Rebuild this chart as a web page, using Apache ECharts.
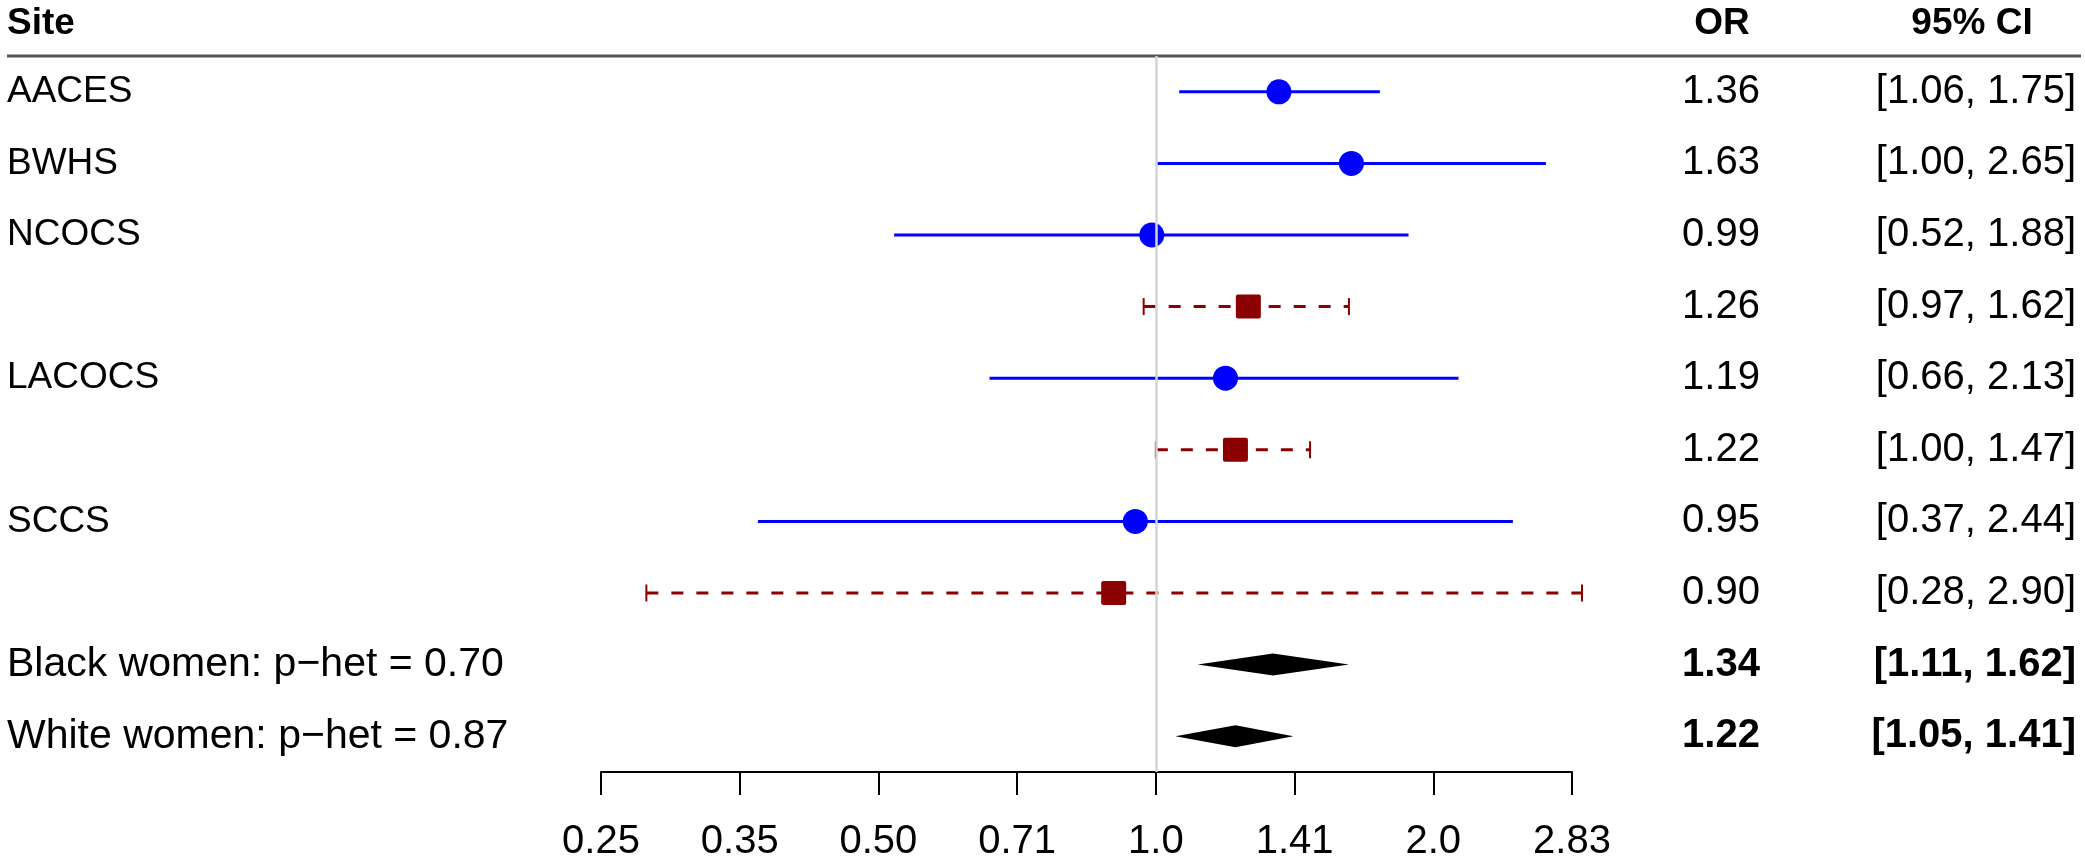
<!DOCTYPE html>
<html>
<head>
<meta charset="utf-8">
<script src="https://cdn.jsdelivr.net/npm/echarts@6/dist/echarts.min.js"></script>
<style>
html,body{margin:0;padding:0;background:#fff;}
#chart{width:2085px;height:862px;}
</style>
</head>
<body>
<div id="chart"></div>
<script>
// ---- data ----
const sites = ['AACES', 'BWHS', 'NCOCS', '', 'LACOCS', '', 'SCCS', '', 'Black women: p\u2212het = 0.70', 'White women: p\u2212het = 0.87'];
const kinds = ['black', 'black', 'black', 'white', 'black', 'white', 'black', 'white', 'summary', 'summary'];
const orValues = [1.36, 1.63, 0.99, 1.26, 1.19, 1.22, 0.95, 0.90, 1.34, 1.22];
const ciLower = [1.06, 1.00, 0.52, 0.97, 0.66, 1.00, 0.37, 0.28, 1.11, 1.05];
const ciUpper = [1.75, 2.65, 1.88, 1.62, 2.13, 1.47, 2.44, 2.90, 1.62, 1.41];
const tickLabels = ['0.25', '0.35', '0.50', '0.71', '1.0', '1.41', '2.0', '2.83'];
const headers = ['Site', 'OR', '95% CI'];

const FONT = '"Liberation Sans", Arial, Helvetica, sans-serif';
const FS_NAME = 37;
const FS_NUM = 40;
const FS_SUM = 41;
const FS_HEAD = 37;
const BLUE = '#0000FF';
const RED = '#8B0000';

const rowIdx = sites.map((_, i) => String(i));
const data = orValues.map((v, i) => [v, i, ciLower[i], ciUpper[i]]);
const orText = orValues.map(v => v.toFixed(2));
const ciText = ciLower.map((l, i) => '[' + l.toFixed(2) + ', ' + ciUpper[i].toFixed(2) + ']');

const chart = echarts.init(document.getElementById('chart'), null, {renderer: 'canvas'});

function richFmt(arr) {
  return function (value) {
    const i = Number(value);
    return kinds[i] === 'summary' ? '{b|' + arr[i] + '}' : '{n|' + arr[i] + '}';
  };
}
const richStyles = {
  n: {fontFamily: FONT, fontSize: FS_NUM, color: '#000'},
  b: {fontFamily: FONT, fontSize: FS_NUM, color: '#000', fontWeight: 'bold'},
  s: {fontFamily: FONT, fontSize: FS_SUM, color: '#000'},
  t: {fontFamily: FONT, fontSize: FS_NAME, color: '#000'}
};

const option = {
  animation: false,
  backgroundColor: '#fff',
  grid: {left: 601, right: 513, top: 56, bottom: 85, containLabel: false},
  xAxis: {
    type: 'log',
    logBase: 2,
    min: 0.25,
    max: Math.pow(2, 1.5),
    interval: 0.5,
    axisLine: {show: true, lineStyle: {color: '#000', width: 2}},
    axisTick: {show: true, length: 23, lineStyle: {color: '#000', width: 2}},
    splitLine: {show: false},
    minorTick: {show: false},
    axisLabel: {
      margin: 50,
      fontFamily: FONT, fontSize: FS_NUM, color: '#000',
      formatter: function (v) {
        const k = Math.round(Math.log2(v) * 2) + 4;
        return tickLabels[k] !== undefined ? tickLabels[k] : '';
      }
    }
  },
  yAxis: [
    {
      type: 'category', data: rowIdx, inverse: true, position: 'left',
      axisLine: {show: false}, axisTick: {show: false}, splitLine: {show: false},
      axisLabel: {
        margin: 594, align: 'left', rich: richStyles,
        formatter: function (v) {
          const i = Number(v);
          if (!sites[i]) return '';
          return kinds[i] === 'summary' ? '{s|' + sites[i] + '}' : '{t|' + sites[i] + '}';
        }
      }
    },
    {
      type: 'category', data: rowIdx, inverse: true, position: 'right',
      axisLine: {show: false}, axisTick: {show: false}, splitLine: {show: false},
      axisLabel: {margin: 149, align: 'center', formatter: richFmt(orText), rich: richStyles}
    },
    {
      type: 'category', data: rowIdx, inverse: true, position: 'right', offset: 0,
      axisLine: {show: false}, axisTick: {show: false}, splitLine: {show: false},
      axisLabel: {margin: 504, align: 'right', formatter: richFmt(ciText), rich: richStyles}
    }
  ],
  graphic: [
    {type: 'line', shape: {x1: 7, y1: 56, x2: 2081, y2: 56}, style: {stroke: '#555', lineWidth: 3}, z: 5},
    {type: 'text', x: 7, y: 24, style: {text: headers[0], font: 'bold ' + FS_HEAD + 'px ' + FONT, fill: '#000', textAlign: 'left', textVerticalAlign: 'middle'}},
    {type: 'text', x: 1722, y: 24, style: {text: headers[1], font: 'bold ' + FS_HEAD + 'px ' + FONT, fill: '#000', textAlign: 'center', textVerticalAlign: 'middle'}},
    {type: 'text', x: 1972, y: 24, style: {text: headers[2], font: 'bold ' + FS_HEAD + 'px ' + FONT, fill: '#000', textAlign: 'center', textVerticalAlign: 'middle'}}
  ],
  series: [
    {
      type: 'line', data: [], xAxisIndex: 0, yAxisIndex: 0, z: 1,
      markLine: {
        silent: true, symbol: 'none', label: {show: false},
        lineStyle: {color: '#d3d3d3', width: 2.5, type: 'solid'},
        data: [{xAxis: 1}]
      }
    },
    {
      type: 'custom', xAxisIndex: 0, yAxisIndex: 0, z: 3, clip: false,
      encode: {x: [0, 2, 3], y: 1},
      data: data,
      renderItem: function (params, api) {
        const i = params.dataIndex;
        const k = kinds[i];
        const row = api.value(1);
        const c = api.coord([api.value(0), row]);
        const l = api.coord([api.value(2), row]);
        const h = api.coord([api.value(3), row]);
        const cy = c[1];
        if (k === 'summary') {
          return {
            type: 'polygon',
            shape: {points: [[l[0], cy], [c[0], cy - 11], [h[0], cy], [c[0], cy + 11]]},
            style: {fill: '#000'}
          };
        }
        if (k === 'black') {
          return {
            type: 'group', children: [
              {type: 'line', shape: {x1: l[0], y1: cy, x2: h[0], y2: cy}, style: {stroke: BLUE, lineWidth: 3}},
              {type: 'circle', shape: {cx: c[0], cy: cy, r: 12.5}, style: {fill: BLUE}}
            ]
          };
        }
        return {
          type: 'group', children: [
            {type: 'line', shape: {x1: l[0], y1: cy, x2: h[0], y2: cy}, style: {stroke: RED, lineWidth: 3, lineDash: [12, 13]}},
            {type: 'line', shape: {x1: l[0], y1: cy - 8.5, x2: l[0], y2: cy + 8.5}, style: {stroke: RED, lineWidth: 2}},
            {type: 'line', shape: {x1: h[0], y1: cy - 8.5, x2: h[0], y2: cy + 8.5}, style: {stroke: RED, lineWidth: 2}},
            {type: 'rect', shape: {x: c[0] - 12.5, y: cy - 12, width: 25, height: 24, r: 2}, style: {fill: RED}}
          ]
        };
      }
    }
  ]
};
chart.setOption(option);
</script>
</body>
</html>
